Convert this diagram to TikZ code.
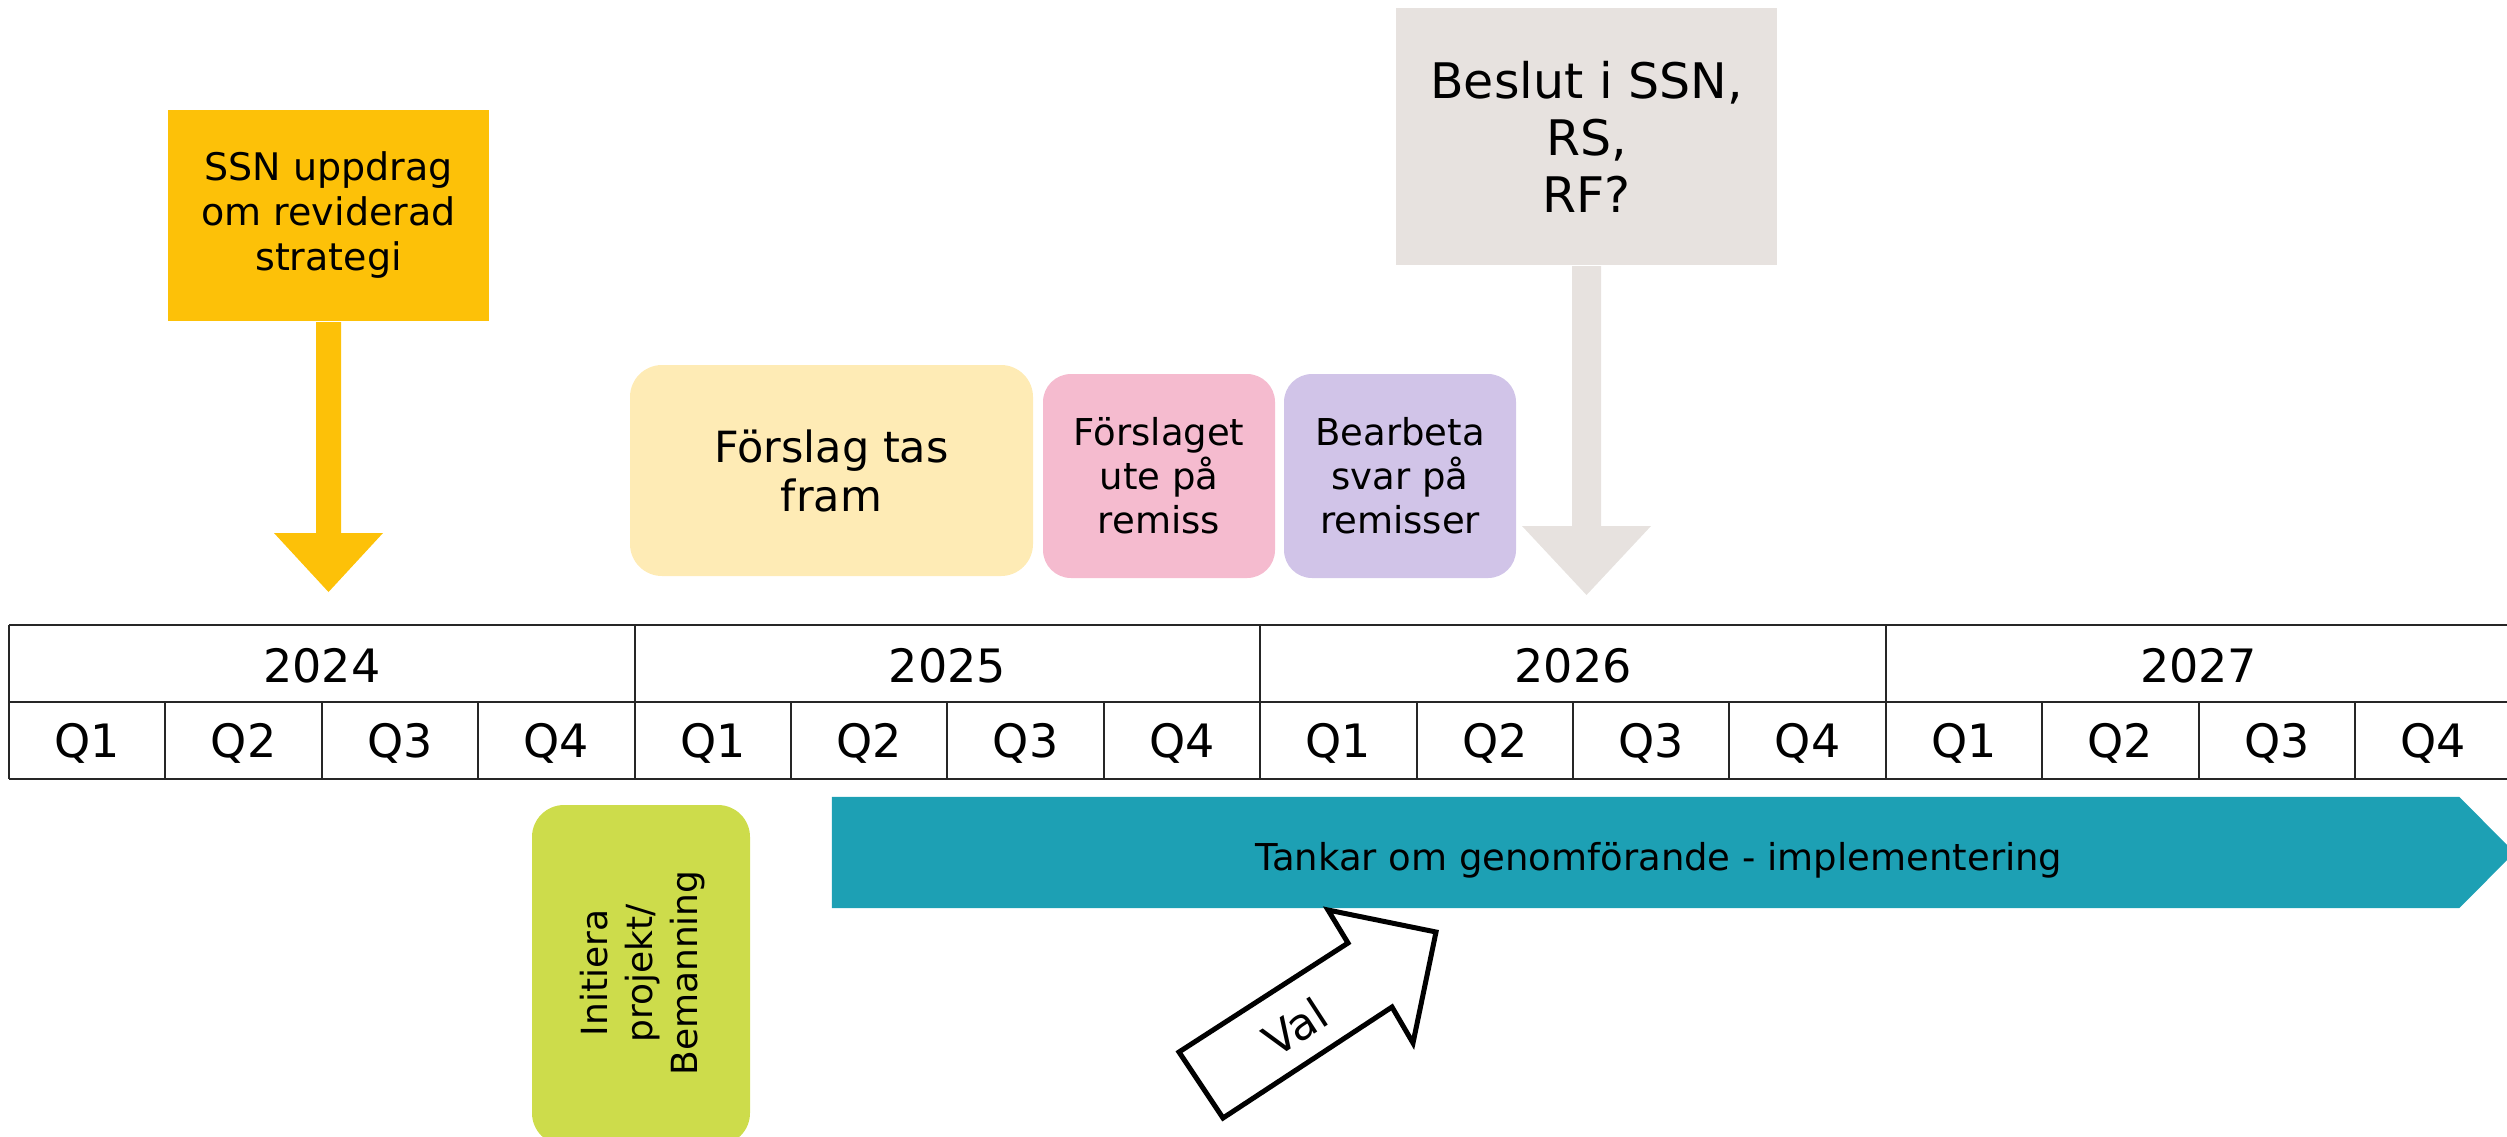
\documentclass[tikz,border=0pt]{standalone}
\usepackage{fontspec}
\setmainfont{DejaVu Sans}
\usetikzlibrary{calc}
\definecolor{cSSN}{HTML}{FDC108}
\definecolor{cFY}{HTML}{FEEBB5}
\definecolor{cPink}{HTML}{F5BBCF}
\definecolor{cPurple}{HTML}{D1C4E8}
\definecolor{cGray}{HTML}{E7E2DF}
\definecolor{cTeal}{HTML}{1DA0B4}
\definecolor{cGreen}{HTML}{CDDC4B}
\begin{document}
\begin{tikzpicture}[x=1pt,y=-1pt,
  box/.style={inner sep=0pt, align=center, text=black},
  tline/.style={line width=2.2pt, draw=black!85},
  yearlbl/.style={inner sep=0pt, font=\fontsize{46}{54}\selectfont},
  qlbl/.style={inner sep=0pt, font=\fontsize{46}{54}\selectfont},
]
\useasboundingbox (0,0) rectangle (2507,1136);

% ---- boxes ----
\node[box, fill=cSSN, minimum width=321pt, minimum height=211pt,
      font=\fontsize{38}{45}\selectfont] (ssn) at (328.5,215.5)
      {SSN uppdrag\\om reviderad\\strategi};
\node[box, fill=cGray, minimum width=381pt, minimum height=257pt,
      font=\fontsize{49}{57}\selectfont] (beslut) at (1586.5,136.5)
      {Beslut i SSN,\\RS,\\RF?};
\node[box, fill=cFY, rounded corners=32pt, minimum width=403pt, minimum height=211pt,
      font=\fontsize{43}{49}\selectfont] (forslag) at (831.5,470.5)
      {Förslag tas\\fram};
\node[box, fill=cPink, rounded corners=28pt, minimum width=232pt, minimum height=204pt,
      font=\fontsize{37}{44}\selectfont] (remiss) at (1159,476)
      {Förslaget\\ute på\\remiss};
\node[box, fill=cPurple, rounded corners=28pt, minimum width=232pt, minimum height=204pt,
      font=\fontsize{37}{44}\selectfont] (bearb) at (1400,476)
      {Bearbeta\\svar på\\remisser};
\node[box, fill=cGreen, rounded corners=32pt, minimum width=218pt, minimum height=340pt] (init) at (641,975) {};
\node[box, rotate=90, font=\fontsize{36}{45}\selectfont] (initTxt) at (643,973)
      {Initiera\\projekt/\\Bemanning};

% ---- block arrows from boxes ----
\coordinate (ssnTip) at (328.5,592);
\fill[cSSN] ($(ssn.south)+(-12.5,1)$) -- ($(ssn.south)+(12.5,1)$) -- ($(ssnTip)+(12.5,-59)$)
  -- ($(ssnTip)+(54.5,-59)$) -- (ssnTip) -- ($(ssnTip)+(-54.5,-59)$) -- ($(ssnTip)+(-12.5,-59)$) -- cycle;
\coordinate (beslutTip) at (1586.5,595);
\fill[cGray] ($(beslut.south)+(-14.5,1)$) -- ($(beslut.south)+(14.5,1)$) -- ($(beslutTip)+(14.5,-69)$)
  -- ($(beslutTip)+(64.5,-69)$) -- (beslutTip) -- ($(beslutTip)+(-64.5,-69)$) -- ($(beslutTip)+(-14.5,-69)$) -- cycle;

% ---- timeline table ----
\draw[tline] (9,625) -- (2530,625);
\draw[tline] (9,702) -- (2530,702);
\draw[tline] (9,779) -- (2530,779);
\foreach \k in {0,...,15}{
  \pgfmathsetmacro{\xx}{round(9+\k*156.4)}
  \pgfmathtruncatemacro{\m}{mod(\k,4)}
  \ifnum\m=0
    \draw[tline] (\xx,625) -- (\xx,779);
  \else
    \draw[tline] (\xx,702) -- (\xx,779);
  \fi
  \pgfmathtruncatemacro{\qq}{\m+1}
  \node[qlbl] (q\k) at (9+\k*156.4+78.2,743) {Q\qq};
}
\foreach \yr [count=\i from 0] in {2024,2025,2026,2027}{
  \node[yearlbl] (y\yr) at (9+\i*625.6+312.8,666) {\yr};
}

% ---- implementation arrow ----
\node[inner sep=0pt, minimum width=1627pt, minimum height=111pt] (impl) at (1645.5,852.5) {};
\coordinate (implTip) at (2514.5,852.5);
\fill[cTeal] (impl.north west) -- (impl.north east) -- (implTip) -- (impl.south east) -- (impl.south west) -- cycle;
\node[inner sep=0pt, font=\fontsize{37}{44}\selectfont] (implTxt) at (1659,860)
  {Tankar om genomförande - implementering};

% ---- Val arrow ----
\draw[line width=5pt, fill=white, line join=miter]
  (1179,1052) -- (1223,1118) -- (1392,1007) -- (1413,1043) -- (1436,932)
  -- (1328,910) -- (1348,943) -- cycle;
\node[inner sep=0pt, rotate=33, font=\fontsize{44}{50}\selectfont] (val) at (1295,1027) {Val};
\end{tikzpicture}
\end{document}
